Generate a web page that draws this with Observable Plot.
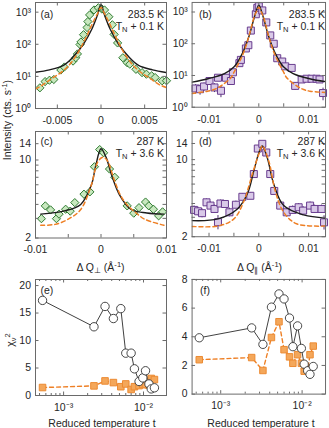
<!DOCTYPE html>
<html><head><meta charset="utf-8">
<script src="https://cdn.jsdelivr.net/npm/d3@7"></script>
<script src="https://cdn.jsdelivr.net/npm/@observablehq/plot@0.6"></script>
<style>
html,body{margin:0;padding:0;background:#fff;}
#root{position:relative;width:329px;height:428px;overflow:hidden;font-family:"Liberation Sans",Arial,sans-serif;color:#262626;}
.t{position:absolute;font-size:10.5px;line-height:1;white-space:nowrap;}
.t sub{font-size:0.72em;line-height:0;vertical-align:-0.3em;}
.t sup{font-size:0.72em;line-height:0;vertical-align:0.5em;}
</style></head><body><div id="root"></div>
<script>
// ---------- Panel (a): ΔQ⊥ scan at 283.5 K (T_N + 0.1 K) ----------
const aQ = [-0.0070,-0.0064,-0.0059,-0.0054,-0.0046,-0.0042,-0.0032,-0.0029,-0.0027,-0.0024,-0.0023,-0.0020,-0.0016,-0.0015,-0.0013,-0.0008,-0.0003,0.0001,0.0004,0.0009,0.0013,0.0015,0.0019,0.0025,0.0030,0.0033,0.0040,0.0047,0.0052,0.0058,0.0062,0.0070,0.0075];
const aI = [4.4,6.9,7.6,8.0,15.8,19.6,30,38,50,98,118,199,333,510,820,1170,1370,1250,1170,720,405,203,110,38,26.6,24,16.6,13.1,11.7,10.4,9.2,7.3,7.3];
const aSolidQ = [-0.0075,-0.0059,-0.0043,-0.0032,-0.0020,-0.0010,-0.0004,0,0.0004,0.0010,0.0020,0.0032,0.0043,0.0059,0.0075];
const aSolid = [13.5,16,22,40,102,316,820,1750,820,316,102,40,22,16,13.2];
const aDashQ = [-0.0075,-0.0068,-0.0060,-0.0054,-0.0047,-0.0040,-0.0034,-0.0028,-0.0024,-0.0020,-0.0016,-0.0012,-0.0008,-0.0004,0,0.0004,0.0008,0.0012,0.0016,0.0020,0.0024,0.0028,0.0034,0.0040,0.0047,0.0054,0.0060,0.0068,0.0075];
const aDash = [4.0,5.2,7.3,9.5,12.5,18,27,46,70,115,190,330,560,900,1400,900,560,330,190,115,70,46,27,18,12.5,9.5,7.3,5.3,4.5];

// ---------- Panel (b): ΔQ∥ scan at 283.5 K ----------
const bQ = [-0.0127,-0.0118,-0.0110,-0.0099,-0.0089,-0.0082,-0.0076,-0.0066,-0.0056,-0.0052,-0.0039,-0.0036,-0.0026,-0.0021,-0.0016,-0.0006,-0.0003,0.0000,0.0007,0.0015,0.0023,0.0030,0.0037,0.0047,0.0053,0.0066,0.0073,0.0086,0.0096,0.0106,0.0116,0.0122,0.0129];
const bI = [3.9,3.7,4.5,6.7,4.2,8.5,3.3,8.5,6.7,12.6,24.5,31,71,90,260,850,1350,1520,1120,470,183,100,35,27.5,19.4,17.3,4.7,7.5,7.9,7.9,7.9,7.5,2.8];
const bErr = [1.3,1.3,1.3,1.4,1.3,1.5,1.3,1.5,1.4,2,2.5,3,5,5,9,18,22,24,20,13,8,6,3,3,2.5,2.5,1.3,1.5,1.5,1.5,1.5,1.5,1.2];
const bSolidQ = [-0.0134,-0.0102,-0.0069,-0.0049,-0.0033,-0.0020,-0.0010,-0.0005,0,0.0005,0.0010,0.0020,0.0033,0.0049,0.0069,0.0102,0.0134];
const bSolid = [6.2,7.9,11.5,19.3,50,165,600,1100,1650,1100,600,165,50,19.3,11.5,7.9,6.4];
const bDashQ = [-0.0134,-0.0103,-0.0090,-0.0076,-0.0056,-0.0050,-0.0040,-0.0030,-0.0020,-0.0010,-0.0005,0,0.0005,0.0010,0.0020,0.0030,0.0040,0.0050,0.0056,0.0076,0.0090,0.0103,0.0134];
const bDash = [2.7,3.2,3.6,4.7,8.5,12.5,25,55,170,650,1000,1420,1000,650,170,55,25,12.5,8.5,4.7,3.6,3.2,2.9];

// ---------- Panel (c): ΔQ⊥ scan at 287 K (T_N + 3.6 K) ----------
const cQ = [-0.0091,-0.0085,-0.0077,-0.0068,-0.0064,-0.0054,-0.0047,-0.0040,-0.0026,-0.0017,-0.0010,-0.0002,0.0004,0.0013,0.0021,0.0040,0.0050,0.0058,0.0068,0.0073,0.0080,0.0088,0.0094];
const cI = [2.98,3.88,3.57,2.98,3.27,3.62,3.48,4.15,4.94,5.18,8.7,12.4,11.6,8.3,7.0,3.88,3.34,3.74,4.2,3.88,3.62,3.16,3.43];
const cSolidQ = [-0.0092,-0.0056,-0.0031,-0.0015,-0.0008,0,0.0008,0.0015,0.0028,0.0046,0.0070,0.0096];
const cSolid = [3.27,3.5,4.0,5.9,8.9,12.6,10.5,7.7,4.9,3.6,3.35,3.27];
const cDashQ = [-0.0092,-0.0070,-0.0050,-0.0031,-0.0015,-0.0005,0.0003,0.0010,0.0020,0.0030,0.0041,0.0055,0.0067,0.0096];
const cDash = [2.6,2.65,2.95,3.6,5.9,9.6,10.6,9.8,6.7,4.8,3.9,3.3,2.94,2.6];

// ---------- Panel (d): ΔQ∥ scan at 287 K ----------
const dQ = [-0.0130,-0.0122,-0.0114,-0.0105,-0.0097,-0.0089,-0.0082,-0.0077,-0.0068,-0.0059,-0.0046,-0.0033,-0.0017,-0.0010,-0.0002,0.0007,0.0015,0.0023,0.0031,0.0043,0.0056,0.0068,0.0080,0.0089,0.0103,0.0112,0.0126,0.0131];
const dI = [3.5,3.4,3.27,4.1,3.83,3.57,2.71,4.0,3.96,3.33,3.9,4.6,4.7,7.4,12.6,13.9,11.6,7.4,5.2,3.83,3.33,3.5,3.7,3.45,3.83,3.57,3.57,2.7];
const dErr = [0.3,0.3,0.3,0.3,0.3,0.3,0.4,0.3,0.3,0.3,0.3,0.3,0.3,0.4,0.5,0.5,0.5,0.4,0.3,0.3,0.3,0.3,0.3,0.3,0.3,0.3,0.3,0.4];
const dSolidQ = [-0.0134,-0.0082,-0.0043,-0.0023,-0.0010,0.0000,0.0007,0.0017,0.0030,0.0050,0.0090,0.0134];
const dSolid = [2.8,2.9,3.57,4.9,7.9,11.5,13.3,10.4,6.0,3.83,3.15,2.95];
const dDashQ = [-0.0134,-0.0082,-0.0050,-0.0030,-0.0013,0.0000,0.0007,0.0020,0.0033,0.0050,0.0076,0.0134];
const dDash = [2.48,2.5,2.9,4.2,7.4,11.2,13.3,9.7,5.2,3.33,2.62,2.5];

// ---------- Panels (e), (f): reduced chi-square vs reduced temperature ----------
const tRed = [5.45e-4,2.4e-3,3.3e-3,4.2e-3,5.2e-3,6.0e-3,7.0e-3,7.7e-3,8.8e-3,9.8e-3,1.06e-2,1.17e-2,1.25e-2,1.37e-2];
const chiPerpSolid = [17.3,12.5,16.2,14.0,15.8,7.7,7.7,4.85,2.55,3.2,4.5,2.1,1.2,1.4];
const chiPerpDash = [1.45,1.75,2.65,2.35,1.6,2.1,1.1,1.6,1.8,2.0,2.0,1.9,3.1,2.9];
const chiParSolid = [3.93,4.62,3.47,6.07,6.99,6.64,5.31,3.31,4.76,3.19,2.09,1.63,1.38,1.93];
const chiParDash = [2.4,2.55,1.65,3.95,5.05,3.1,2.6,2.15,2.75,2.15,1.6,1.65,2.75,3.35];

// tick values / labels
const decadeTicks = [1,10,100,1000];
const linTicksPerp = [-0.005,0,0.005];
const linTicksWide = [-0.01,-0.005,0,0.005,0.01];
const linLabelsWide = [-0.01,0,0.01];
const logTicksLow = [2,3,4,5,6,7,8,9,10,14];
const logLabelsLow = [2,6,10,14];
const tMajor = [1e-3,1e-2];
const tMinor = [5e-4,6e-4,7e-4,8e-4,9e-4,2e-3,3e-3,4e-3,5e-3,6e-3,7e-3,8e-3,9e-3];
const chiTicksE = [0,5,10,15,20];
const chiTicksF = [0,2,4,6,8];

// ---------- drawing ----------
const root = document.getElementById("root");
const AX = "#6a6a6a";
const BLACK = "#1c1c1c", ORANGE = "#ee7f24";
const SUP = {"0":"⁰","1":"¹","2":"²","3":"³","4":"⁴","-":"⁻"};
const pow10 = d => "10" + String(Math.round(Math.log10(d))).replace(/./g, c => SUP[c]);
const plain = d => String(d);

function panel(box, cfg) {
  const [x0, y0, x1, y1] = box;
  const ml = 36, mr = 4, mt = 4, mb = 24;
  const W = x1 - x0, H = y1 - y0;
  const tickMarks = [];
  const addX = (vals, len) => {
    tickMarks.push(Plot.tickX(vals, {x: d => d, insetTop: H - len, stroke: AX}));
    tickMarks.push(Plot.tickX(vals, {x: d => d, insetBottom: H - len, stroke: AX}));
  };
  const addY = (vals, len) => {
    tickMarks.push(Plot.tickY(vals, {y: d => d, insetRight: W - len, stroke: AX}));
    tickMarks.push(Plot.tickY(vals, {y: d => d, insetLeft: W - len, stroke: AX}));
  };
  addX(cfg.xTicks, 3.5); if (cfg.xMinor) addX(cfg.xMinor, 2);
  addY(cfg.yTicks, 3.5); if (cfg.yMinor) addY(cfg.yMinor, 2);
  const svg = Plot.plot({
    width: W + ml + mr, height: H + mt + mb,
    marginLeft: ml, marginRight: mr, marginTop: mt, marginBottom: mb,
    x: cfg.x, y: cfg.y,
    style: {background: "transparent", overflow: "visible", fontFamily: "'Liberation Sans', Arial, sans-serif", fontSize: "10.5px", color: "#262626"},
    marks: [
      ...cfg.marks,
      ...tickMarks,
      Plot.axisX(cfg.xLabels, {tickSize: 0, tickPadding: 8, tickFormat: cfg.xFormat, label: null}),
      Plot.axisY(cfg.yLabels, {tickSize: 0, tickPadding: 4.5, tickFormat: cfg.yFormat, label: null}),
      Plot.frame({stroke: AX, strokeWidth: 1})
    ]
  });
  const wrap = document.createElement("div");
  wrap.style.cssText = `position:absolute;left:${x0 - ml}px;top:${y0 - mt}px;`;
  wrap.append(svg);
  root.append(wrap);
}

const diamonds = (xs, ys) => Plot.dot(xs, {x: xs, y: ys, symbol: "diamond2", r: 3.7, fill: "#c8e8bf", stroke: "#2e7a30", strokeWidth: 1});
const squares = (xs, ys) => Plot.dot(xs, {x: xs, y: ys, symbol: "square", r: 4, fill: "#d9c9e8", stroke: "#673b8e", strokeWidth: 1});
const errBars = (xs, ys, es) => Plot.ruleX(xs, {x: xs, y1: ys.map((v, i) => v - es[i]), y2: ys.map((v, i) => v + es[i]), stroke: "#4e2a70", strokeWidth: 1});
const solid = (xs, ys) => Plot.line(xs, {x: xs, y: ys, curve: "catmull-rom", stroke: BLACK, strokeWidth: 1.4, clip: true});
const dashed = (xs, ys) => Plot.line(xs, {x: xs, y: ys, curve: "catmull-rom", stroke: ORANGE, strokeWidth: 1.5, strokeDasharray: "4,3", clip: true});

// (a)
panel([35, 2, 166, 108], {
  x: {type: "linear", domain: [-0.0075, 0.0075]},
  y: {type: "log", domain: [1, 2000]},
  xTicks: linTicksPerp, xLabels: linTicksPerp, xFormat: plain,
  yTicks: decadeTicks, yLabels: decadeTicks, yFormat: pow10,
  marks: [diamonds(aQ, aI), solid(aSolidQ, aSolid), dashed(aDashQ, aDash)]
});
// (b)
panel([192, 2, 327, 108], {
  x: {type: "linear", domain: [-0.0134, 0.0134]},
  y: {type: "log", domain: [1, 2000]},
  xTicks: linTicksWide, xLabels: linLabelsWide, xFormat: plain,
  yTicks: decadeTicks, yLabels: decadeTicks, yFormat: pow10,
  marks: [errBars(bQ, bI, bErr), squares(bQ, bI), solid(bSolidQ, bSolid), dashed(bDashQ, bDash)]
});
// (c)
panel([35, 131, 166, 237.5], {
  x: {type: "linear", domain: [-0.01, 0.01]},
  y: {type: "log", domain: [2, 18]},
  xTicks: linTicksWide, xLabels: linLabelsWide, xFormat: plain,
  yTicks: logTicksLow, yLabels: logLabelsLow, yFormat: plain,
  marks: [diamonds(cQ, cI), solid(cSolidQ, cSolid), dashed(cDashQ, cDash)]
});
// (d)
panel([192, 131, 327, 237.5], {
  x: {type: "linear", domain: [-0.0134, 0.0134]},
  y: {type: "log", domain: [2, 18]},
  xTicks: linTicksWide, xLabels: linLabelsWide, xFormat: plain,
  yTicks: logTicksLow, yLabels: logLabelsLow, yFormat: plain,
  marks: [errBars(dQ, dI, dErr), squares(dQ, dI), solid(dSolidQ, dSolid), dashed(dDashQ, dDash)]
});
// (e)
const chiMarks = (solidV, dashV) => [
  Plot.line(tRed, {x: tRed, y: solidV, stroke: "#2a2a2a", strokeWidth: 0.9}),
  Plot.line(tRed, {x: tRed, y: dashV, stroke: ORANGE, strokeWidth: 1.4, strokeDasharray: "4,3"}),
  Plot.dot(tRed, {x: tRed, y: dashV, symbol: "square", r: 3.7, fill: "#f4a75a", stroke: "#ec8a32", strokeWidth: 1}),
  Plot.dot(tRed, {x: tRed, y: solidV, symbol: "circle", r: 4.2, fill: "#fff", stroke: "#333", strokeWidth: 0.9})
];
panel([35, 279, 166, 395], {
  x: {type: "log", domain: [4.45e-4, 0.0194]},
  y: {type: "linear", domain: [0, 21.1]},
  xTicks: tMajor, xMinor: tMinor, xLabels: tMajor, xFormat: pow10,
  yTicks: chiTicksE, yLabels: chiTicksE, yFormat: plain,
  marks: chiMarks(chiPerpSolid, chiPerpDash)
});
// (f)
panel([192, 279, 327, 395], {
  x: {type: "log", domain: [4.45e-4, 0.0194]},
  y: {type: "linear", domain: [0, 8]},
  xTicks: tMajor, xMinor: tMinor, xLabels: tMajor, xFormat: pow10,
  yTicks: chiTicksF, yLabels: chiTicksF, yFormat: plain,
  marks: chiMarks(chiParSolid, chiParDash)
});

// ---------- text annotations ----------
function note(html, x, y, anchor = "start", rotate = 0) {
  const el = document.createElement("div");
  el.className = "t";
  el.innerHTML = html;
  const tx = anchor === "start" ? "0" : anchor === "end" ? "-100%" : "-50%";
  el.style.left = x + "px";
  el.style.top = y + "px";
  el.style.transform = `translate(${tx},-50%)` + (rotate ? ` rotate(${rotate}deg)` : "");
  root.append(el);
}
note("(a)", 40.5, 13.5); note("283.5 K", 164, 13.5, "end"); note("T<sub>N</sub> + 0.1 K", 164, 25.5, "end");
note("(b)", 199, 13.5); note("283.5 K", 325, 13.5, "end"); note("T<sub>N</sub> + 0.1 K", 325, 25.5, "end");
note("(c)", 40.5, 140.5); note("287 K", 164, 140.5, "end"); note("T<sub>N</sub> + 3.6 K", 164, 152.5, "end");
note("(d)", 199, 140.5); note("287 K", 325, 140.5, "end"); note("T<sub>N</sub> + 3.6 K", 325, 152.5, "end");
note("(e)", 40.5, 289.5);
note("(f)", 200, 289.5);
note("Intensity (cts. s<sup>-1</sup>)", 7, 120, "middle", -90);
note("Δ Q<sub>⊥</sub> (Å<sup>-1</sup>)", 100.5, 267, "middle");
note("Δ Q<sub>∥</sub> (Å<sup>-1</sup>)", 259.5, 267, "middle");
note("χ<sub>ν</sub><sup>2</sup>", 9.5, 340, "middle", -90);
note("Reduced temperature t", 102, 422.5, "middle");
note("Reduced temperature t", 261, 422.5, "middle");
</script></body></html>
